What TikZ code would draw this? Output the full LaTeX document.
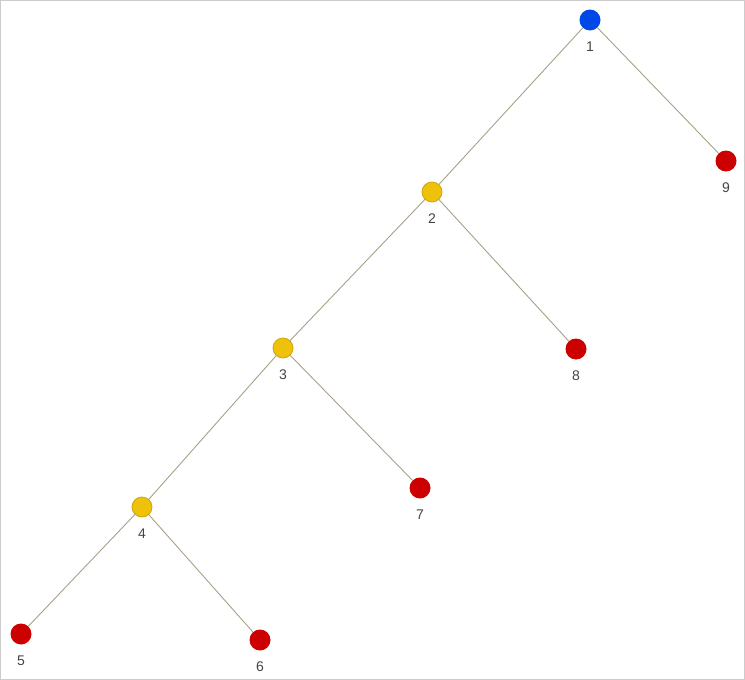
\documentclass[tikz,border=0pt]{standalone}
\usepackage{fontspec}
\setmainfont{Liberation Sans}
\definecolor{edgec}{HTML}{A8A088}
\definecolor{blu}{HTML}{0047E8}
\definecolor{rd}{HTML}{CC0000}
\definecolor{yl}{HTML}{EEC20A}
\definecolor{yld}{HTML}{CFA508}
\definecolor{lbl}{HTML}{444444}
\definecolor{frame}{HTML}{CCCCCC}
\tikzset{
  vert/.style={circle, minimum size=21pt, inner sep=0pt},
  bluev/.style={vert, fill=blu},
  redv/.style={vert, fill=rd},
  yelv/.style={vert, fill=yl, draw=yld, line width=0.8pt, minimum size=20pt},
  lab/.style={font=\fontsize{14pt}{16pt}\selectfont, text=lbl, inner sep=0pt},
  edge/.style={draw=edgec, line width=0.9pt}
}
\begin{document}
\begin{tikzpicture}[x=1pt,y=-1pt]
\useasboundingbox (0,0) rectangle (745,680);
\draw[frame, line width=1pt] (0.5,0.5) rectangle (744.5,679.5);
\node[bluev] (n1) at (590,20) {};
\node[yelv] (n2) at (432,192) {};
\node[yelv] (n3) at (283,348) {};
\node[yelv] (n4) at (142,507) {};
\node[redv] (n5) at (21,634) {};
\node[redv] (n6) at (260,640) {};
\node[redv] (n7) at (420,488) {};
\node[redv] (n8) at (576,349) {};
\node[redv] (n9) at (726,161) {};
\draw[edge] (n1) -- (n2);
\draw[edge] (n1) -- (n9);
\draw[edge] (n2) -- (n3);
\draw[edge] (n2) -- (n8);
\draw[edge] (n3) -- (n4);
\draw[edge] (n3) -- (n7);
\draw[edge] (n4) -- (n5);
\draw[edge] (n4) -- (n6);
\node[lab] (l1) at (590,47) {1};
\node[lab] (l2) at (432,219) {2};
\node[lab] (l3) at (283,375) {3};
\node[lab] (l4) at (142,534) {4};
\node[lab] (l5) at (21,661) {5};
\node[lab] (l6) at (260,667) {6};
\node[lab] (l7) at (420,515) {7};
\node[lab] (l8) at (576,376) {8};
\node[lab] (l9) at (726,188) {9};
\end{tikzpicture}
\end{document}
